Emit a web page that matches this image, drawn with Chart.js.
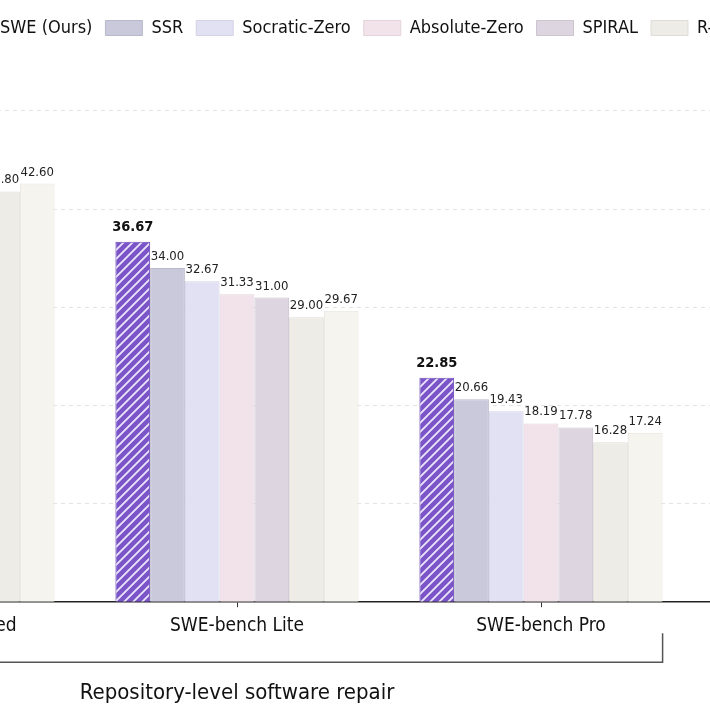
<!DOCTYPE html>
<html>
<head>
<meta charset="utf-8">
<script src="https://cdn.jsdelivr.net/npm/chart.js@4.4.1/dist/chart.umd.min.js"></script>
<style>
    html, body { margin: 0; padding: 0; background: #fff; overflow: hidden; }
    #wrap { position: absolute; left: -219px; top: 0; width: 1220px; height: 710px; }
</style>
</head>
<body>
<div id="wrap"><canvas id="benchChart"></canvas></div>
<script>
const categories = ['SWE-bench Verified', 'SWE-bench Lite', 'SWE-bench Pro', ''];
const methods = ['SWE (Ours)', 'SSR', 'Socratic-Zero', 'Absolute-Zero', 'SPIRAL', 'R-Zero', 'Base'];

// values left of the frame can't be read, so they stay null
const oursScores = [null, 36.67, 22.85, null];
const ssrScores = [null, 34.0, 20.66, null];
const socraticScores = [null, 32.67, 19.43, null];
const absoluteScores = [null, 31.33, 18.19, null];
const spiralScores = [null, 31.0, 17.78, null];
const rzeroScores = [41.8, 29.0, 16.28, null];
const baseScores = [42.6, 29.67, 17.24, null];

const sectionName = 'Repository-level software repair';
const sectionRange = [0, 2];

const FONT = '"Liberation Sans Narrow", "DejaVu Sans Condensed", "Liberation Sans", sans-serif';
const fills = ['#7b55c8', '#c9c9db', '#e2e1f3', '#f1e3e9', '#ddd5e0', '#eeece7', '#f5f4ef'];
const edges = ['#6a45b8', '#b9b9cc', '#d3d2e6', '#e3d3da', '#cdc4d0', '#dfddd7', '#e6e5df'];

Chart.defaults.font.family = FONT;

const ctx = document.getElementById('benchChart').getContext('2d');

function stripePattern(bg, fg) {
    const tile = document.createElement('canvas');
    tile.width = 9;
    tile.height = 9;
    const g = tile.getContext('2d');
    g.fillStyle = bg;
    g.fillRect(0, 0, 9, 9);
    g.strokeStyle = fg;
    g.lineWidth = 1.8;
    g.beginPath();
    g.moveTo(-1, 10); g.lineTo(10, -1);
    g.moveTo(-5.5, 5.5); g.lineTo(5.5, -5.5);
    g.moveTo(3.5, 14.5); g.lineTo(14.5, 3.5);
    g.stroke();
    return ctx.createPattern(tile, 'repeat');
}

const allScores = [oursScores, ssrScores, socraticScores, absoluteScores, spiralScores, rzeroScores, baseScores];

const datasets = allScores.map((scores, i) => ({
    label: methods[i],
    data: scores,
    backgroundColor: i === 0 ? stripePattern(fills[0], '#ece5fb') : fills[i],
    borderColor: edges[i],
    borderWidth: 1,
    barPercentage: 1,
    categoryPercentage: 0.8,
}));

// value printed over every bar
const valueLabels = {
    id: 'valueLabels',
    afterDatasetsDraw(chart) {
        const c = chart.ctx;
        c.save();
        c.textAlign = 'center';
        c.textBaseline = 'alphabetic';
        chart.data.datasets.forEach((ds, i) => {
            chart.getDatasetMeta(i).data.forEach((bar, j) => {
                const v = ds.data[j];
                if (v == null) return;
                if (i === 0) {
                    c.font = 'bold 14.5px ' + FONT;
                    c.fillStyle = '#111';
                    c.fillText(v.toFixed(2), bar.x, bar.y - 11);
                } else {
                    c.font = '13px ' + FONT;
                    c.fillStyle = '#222';
                    c.fillText(v.toFixed(2), bar.x, bar.y - 8);
                }
            });
        });
        c.restore();
    },
};

// bracket + group caption under the x axis
const sectionBracket = {
    id: 'sectionBracket',
    afterDraw(chart) {
        const xs = chart.scales.x;
        const c = chart.ctx;
        const catW = (xs.right - xs.left) / categories.length;
        const half = (catW * 0.8) / 2;
        const x0 = xs.getPixelForValue(sectionRange[0]) - half;
        const x1 = xs.getPixelForValue(sectionRange[1]) + half;
        const b = chart.chartArea.bottom;
        c.save();
        c.strokeStyle = '#555';
        c.lineWidth = 1.5;
        c.beginPath();
        c.moveTo(x0, b + 31);
        c.lineTo(x0, b + 60);
        c.lineTo(x1, b + 60);
        c.lineTo(x1, b + 31);
        c.stroke();
        c.font = '22px ' + FONT;
        c.fillStyle = '#111';
        c.textAlign = 'center';
        c.textBaseline = 'middle';
        c.fillText(sectionName, xs.getPixelForValue(1), b + 91);
        c.restore();
    },
};

// legend row starts further right than the plot
const legendShift = {
    id: 'legendShift',
    afterLayout(chart) {
        const lg = chart.legend;
        const w = lg.right - lg.left;
        lg.left = 160;
        lg.right = lg.left + w;
    },
};

new Chart(ctx, {
    type: 'bar',
    data: { labels: categories, datasets: datasets },
    options: {
        responsive: true,
        maintainAspectRatio: false,
        animation: false,
        layout: { padding: { top: 6, left: 0, right: 4, bottom: 66 } },
        plugins: {
            legend: {
                position: 'top',
                align: 'start',
                labels: {
                    boxWidth: 37,
                    boxHeight: 15,
                    padding: 13,
                    color: '#111',
                    font: { size: 18 },
                },
            },
            tooltip: { enabled: false },
        },
        scales: {
            x: {
                border: { display: true, color: '#222', width: 1.5 },
                grid: { drawOnChartArea: false, offset: false, tickLength: 5, color: '#333' },
                ticks: { color: '#111', padding: 7, font: { size: 19 } },
            },
            y: {
                min: 0,
                max: 56.5,
                afterFit(scale) { scale.width = 0; },
                border: { display: false, dash: [4, 4] },
                grid: {
                    drawTicks: false,
                    color: (c) => (c.tick && c.tick.value > 0 && c.tick.value % 10 === 0 ? '#e3e3e3' : 'rgba(0,0,0,0)'),
                },
                ticks: { display: false, stepSize: 10 },
            },
        },
    },
    plugins: [valueLabels, sectionBracket, legendShift],
});
</script>
</body>
</html>
